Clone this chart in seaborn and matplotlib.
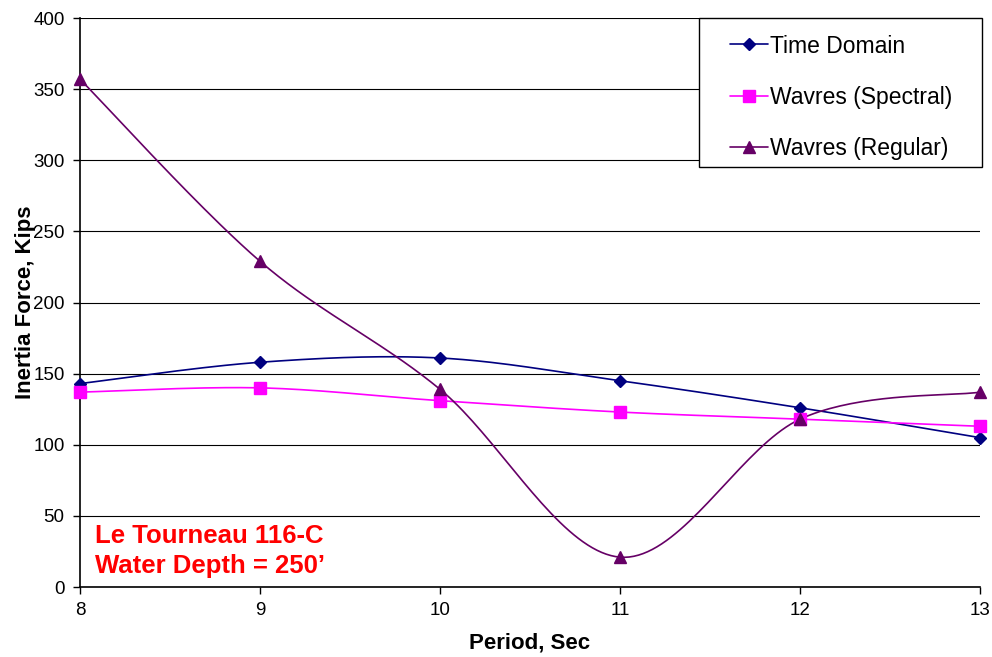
import numpy as np
import pandas as pd
import matplotlib
matplotlib.use("Agg")
import matplotlib.pyplot as plt
import seaborn as sns
from matplotlib.lines import Line2D
from matplotlib.patches import Rectangle

period = [8, 9, 10, 11, 12, 13]
time_domain = [143, 158, 161, 145, 126, 105]
wavres_spectral = [137, 140, 131, 123, 118, 113]
wavres_regular = [357, 229, 139, 21, 118, 137]

series_names = ["Time Domain", "Wavres (Spectral)", "Wavres (Regular)"]
colors = ["#000080", "#FF00FF", "#660066"]
markers = ["D", "s", "^"]
msizes = [6, 8, 8]

sns.set_theme(style="white")
plt.rcParams['font.family'] = ['Liberation Sans', 'DejaVu Sans']

def excel_smooth(x, y, n=40):
    x = np.asarray(x, float); y = np.asarray(y, float)
    px = np.concatenate([[x[0]], x, [x[-1]]])
    py = np.concatenate([[y[0]], y, [y[-1]]])
    xs, ys = [], []
    t = np.linspace(0, 1, n)
    for i in range(1, len(px) - 2):
        p0 = np.array([px[i], py[i]]); p3 = np.array([px[i + 1], py[i + 1]])
        p1 = p0 + (np.array([px[i + 1], py[i + 1]]) - np.array([px[i - 1], py[i - 1]])) / 6
        p2 = p3 - (np.array([px[i + 2], py[i + 2]]) - np.array([px[i], py[i]])) / 6
        b = ((1 - t) ** 3)[:, None] * p0 + (3 * (1 - t) ** 2 * t)[:, None] * p1 + \
            (3 * (1 - t) * t ** 2)[:, None] * p2 + (t ** 3)[:, None] * p3
        xs.extend(b[:, 0]); ys.extend(b[:, 1])
    return np.array(xs), np.array(ys)

fig = plt.figure(figsize=(9.92, 6.57), dpi=100)
ax = fig.add_axes([0.0806, 0.1065, 0.9074, 0.8661])

handles = []
for name, vals, c, m, ms in zip(series_names, [time_domain, wavres_spectral, wavres_regular], colors, markers, msizes):
    sx, sy = excel_smooth(period, vals)
    df = pd.DataFrame({"x": sx, "y": sy})
    sns.lineplot(data=df, x="x", y="y", sort=False, color=c, linewidth=1.2, ax=ax, estimator=None)
    ax.plot(period, vals, linestyle="none", marker=m, color=c, markersize=ms, zorder=5, clip_on=False)
    handles.append(Line2D([0], [0], color=c, marker=m, markersize=ms, linewidth=1.2))

ax.set_xlim(8, 13)
ax.set_ylim(0, 400)
ax.set_xticks(period)
ax.set_yticks(np.arange(0, 401, 50))
ax.yaxis.grid(True, color="black", linewidth=0.8)
ax.set_axisbelow(True)
for s in ["top", "right"]:
    ax.spines[s].set_visible(False)
for s in ["left", "bottom"]:
    ax.spines[s].set_color("black")
    ax.spines[s].set_linewidth(1.2)
ax.tick_params(axis="both", which="both", direction="out", length=5, width=1, color="black",
               labelsize=13.5, bottom=True, left=True, pad=6, labelcolor="black")
ax.set_xlabel("Period, Sec", fontsize=16, fontweight="bold", color="black")
ax.set_ylabel("Inertia Force, Kips", fontsize=16, fontweight="bold", color="black")
ax.xaxis.set_label_coords(0.5, -0.099)
ax.yaxis.set_label_coords(-0.061, 0.5)
ax.xaxis.label.set_va("center")
ax.yaxis.label.set_va("center")

ax.text(0.017, 0.015, "Le Tourneau 116-C\nWater Depth = 250\u2019", transform=ax.transAxes,
        color="red", fontsize=18.5, fontweight="bold", ha="left", va="bottom", linespacing=1.35)

# legend box
ax.add_patch(Rectangle((0.688, 0.738), 0.314, 0.262, transform=ax.transAxes,
                       facecolor="white", edgecolor="black", linewidth=1.0,
                       zorder=9, clip_on=False))
leg = ax.legend(handles, series_names, loc="upper left", bbox_to_anchor=(0.722, 0.971),
                fontsize=16.5, frameon=False,
                handlelength=1.66, labelspacing=1.24, borderpad=0.0, handletextpad=0.1,
                borderaxespad=0)
leg.set_zorder(10)
for t in leg.get_texts():
    t.set_color("black")

fig.savefig("out.png", dpi=100)
